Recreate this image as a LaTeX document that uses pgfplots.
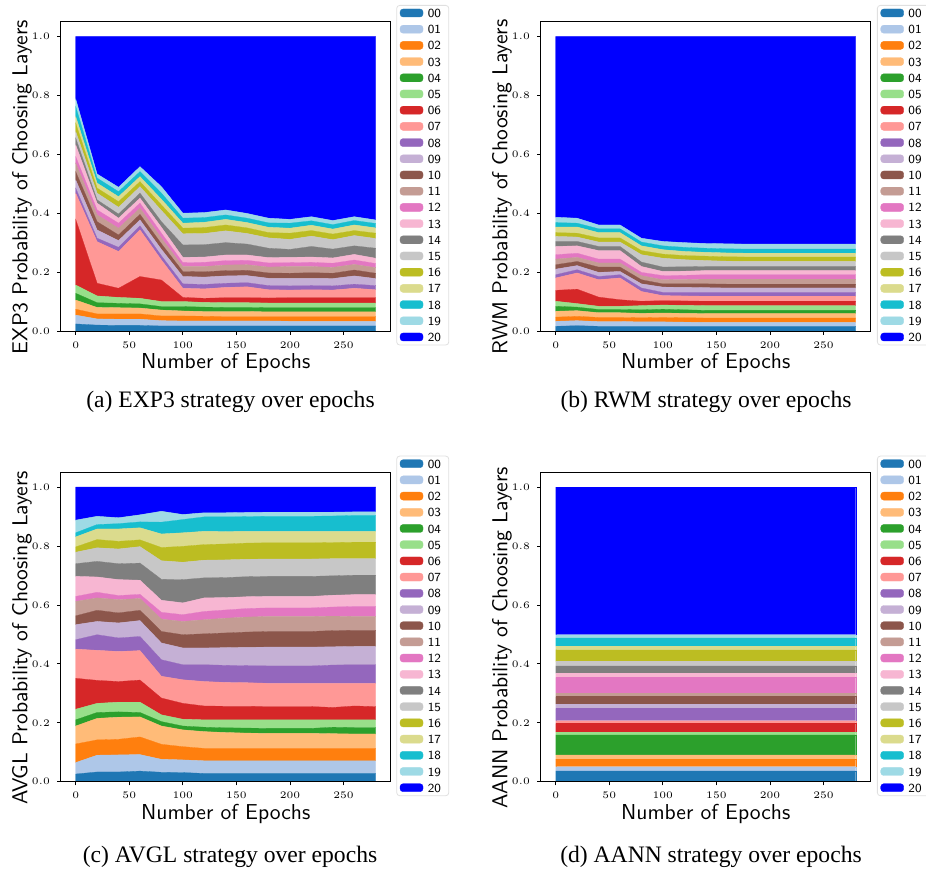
\documentclass[border=0pt]{standalone}
\usepackage{pgfplots}
\usepackage{pgfplotstable}
\pgfplotsset{compat=1.18}
\usepackage{fontspec}
\setmainfont{Liberation Serif}

\definecolor{c00}{HTML}{1F77B4}
\definecolor{c01}{HTML}{AEC7E8}
\definecolor{c02}{HTML}{FF7F0E}
\definecolor{c03}{HTML}{FFBB78}
\definecolor{c04}{HTML}{2CA02C}
\definecolor{c05}{HTML}{98DF8A}
\definecolor{c06}{HTML}{D62728}
\definecolor{c07}{HTML}{FF9896}
\definecolor{c08}{HTML}{9467BD}
\definecolor{c09}{HTML}{C5B0D5}
\definecolor{c10}{HTML}{8C564B}
\definecolor{c11}{HTML}{C49C94}
\definecolor{c12}{HTML}{E377C2}
\definecolor{c13}{HTML}{F7B6D2}
\definecolor{c14}{HTML}{7F7F7F}
\definecolor{c15}{HTML}{C7C7C7}
\definecolor{c16}{HTML}{BCBD22}
\definecolor{c17}{HTML}{DBDB8D}
\definecolor{c18}{HTML}{17BECF}
\definecolor{c19}{HTML}{9EDAE5}
\definecolor{c20}{HTML}{0000FF}

% EXP3
\pgfplotstableread{
e   c00   c01   c02   c03   c04   c05   c06   c07   c08   c09   c10   c11   c12   c13   c14   c15   c16   c17   c18   c19   c20
0   0.024 0.030 0.020 0.031 0.023 0.028 0.223 0.089 0.017 0.028 0.028 0.029 0.022 0.040 0.023 0.022 0.029 0.022 0.034 0.026 0.212
20  0.020 0.021 0.017 0.022 0.016 0.023 0.043 0.141 0.012 0.028 0.028 0.023 0.017 0.023 0.011 0.023 0.017 0.017 0.017 0.014 0.467
40  0.019 0.021 0.018 0.021 0.015 0.020 0.031 0.125 0.014 0.023 0.019 0.023 0.017 0.017 0.014 0.023 0.019 0.017 0.017 0.015 0.512
60  0.019 0.021 0.018 0.020 0.014 0.019 0.074 0.158 0.014 0.020 0.019 0.021 0.017 0.017 0.017 0.022 0.017 0.017 0.017 0.017 0.442
80  0.017 0.018 0.016 0.020 0.012 0.017 0.073 0.068 0.014 0.022 0.019 0.019 0.017 0.020 0.019 0.038 0.019 0.019 0.021 0.022 0.510
100 0.017 0.017 0.017 0.017 0.015 0.017 0.014 0.031 0.015 0.025 0.017 0.017 0.013 0.018 0.042 0.038 0.019 0.017 0.017 0.017 0.600
120 0.017 0.017 0.016 0.016 0.015 0.016 0.014 0.032 0.015 0.025 0.018 0.018 0.014 0.018 0.042 0.038 0.020 0.018 0.016 0.017 0.598
140 0.017 0.017 0.015 0.017 0.014 0.016 0.017 0.035 0.014 0.025 0.018 0.019 0.015 0.019 0.042 0.040 0.020 0.019 0.015 0.017 0.589
160 0.017 0.017 0.015 0.017 0.014 0.016 0.017 0.037 0.014 0.024 0.018 0.019 0.015 0.018 0.037 0.036 0.019 0.018 0.015 0.016 0.601
180 0.017 0.017 0.015 0.016 0.014 0.016 0.017 0.028 0.014 0.025 0.018 0.020 0.014 0.018 0.032 0.035 0.018 0.018 0.015 0.016 0.617
200 0.017 0.016 0.016 0.016 0.014 0.016 0.018 0.026 0.014 0.026 0.017 0.023 0.013 0.018 0.027 0.034 0.021 0.017 0.017 0.013 0.621
220 0.017 0.016 0.016 0.016 0.014 0.016 0.018 0.027 0.014 0.025 0.019 0.021 0.014 0.018 0.036 0.035 0.019 0.018 0.015 0.014 0.612
240 0.017 0.016 0.016 0.016 0.014 0.016 0.018 0.026 0.014 0.025 0.018 0.020 0.014 0.018 0.030 0.032 0.019 0.017 0.015 0.014 0.625
260 0.017 0.016 0.016 0.016 0.014 0.016 0.018 0.032 0.014 0.028 0.020 0.019 0.015 0.019 0.029 0.035 0.017 0.019 0.015 0.013 0.612
280 0.017 0.016 0.016 0.016 0.014 0.016 0.018 0.027 0.014 0.024 0.018 0.019 0.014 0.018 0.034 0.033 0.018 0.018 0.015 0.012 0.623
}\dataA

% RWM
\pgfplotstableread{
e   c00   c01   c02   c03   c04   c05   c06   c07   c08   c09   c10   c11   c12   c13   c14   c15   c16   c17   c18   c19   c20
0   0.016 0.017 0.014 0.020 0.017 0.017 0.037 0.042 0.011 0.019 0.015 0.019 0.015 0.028 0.017 0.017 0.013 0.019 0.015 0.018 0.614
20  0.018 0.017 0.015 0.019 0.012 0.012 0.049 0.055 0.011 0.014 0.014 0.014 0.014 0.025 0.015 0.015 0.013 0.021 0.013 0.017 0.617
40  0.016 0.016 0.014 0.016 0.011 0.011 0.031 0.059 0.011 0.014 0.018 0.014 0.013 0.029 0.014 0.015 0.014 0.018 0.013 0.013 0.640
60  0.016 0.016 0.014 0.016 0.011 0.011 0.022 0.074 0.011 0.011 0.015 0.014 0.013 0.029 0.014 0.015 0.014 0.018 0.013 0.013 0.640
80  0.016 0.015 0.014 0.015 0.012 0.014 0.015 0.033 0.012 0.014 0.014 0.014 0.011 0.020 0.015 0.025 0.014 0.016 0.013 0.013 0.685
100 0.016 0.015 0.015 0.015 0.013 0.014 0.015 0.017 0.011 0.018 0.011 0.014 0.014 0.014 0.015 0.030 0.014 0.015 0.013 0.015 0.696
120 0.016 0.014 0.015 0.015 0.012 0.015 0.015 0.017 0.012 0.017 0.012 0.015 0.014 0.014 0.015 0.024 0.014 0.014 0.014 0.016 0.700
140 0.016 0.013 0.015 0.015 0.011 0.016 0.015 0.017 0.013 0.016 0.013 0.016 0.015 0.014 0.014 0.020 0.015 0.013 0.014 0.016 0.703
160 0.016 0.013 0.015 0.015 0.011 0.016 0.015 0.017 0.013 0.015 0.013 0.017 0.015 0.014 0.014 0.018 0.015 0.013 0.014 0.017 0.704
180 0.016 0.013 0.015 0.015 0.011 0.016 0.015 0.017 0.013 0.015 0.013 0.017 0.015 0.014 0.014 0.017 0.015 0.013 0.014 0.017 0.705
200 0.016 0.013 0.015 0.015 0.011 0.016 0.015 0.017 0.013 0.015 0.013 0.017 0.015 0.014 0.014 0.017 0.015 0.013 0.014 0.017 0.705
220 0.016 0.013 0.015 0.015 0.011 0.016 0.015 0.017 0.013 0.015 0.013 0.017 0.015 0.014 0.014 0.017 0.015 0.013 0.014 0.017 0.705
240 0.016 0.013 0.015 0.015 0.011 0.016 0.015 0.017 0.013 0.015 0.013 0.017 0.015 0.014 0.014 0.017 0.015 0.013 0.014 0.017 0.705
260 0.016 0.013 0.015 0.015 0.011 0.016 0.015 0.017 0.013 0.015 0.013 0.017 0.015 0.014 0.014 0.017 0.015 0.013 0.014 0.017 0.705
280 0.016 0.013 0.015 0.015 0.011 0.016 0.015 0.017 0.013 0.015 0.013 0.017 0.015 0.014 0.014 0.017 0.015 0.013 0.014 0.017 0.705
}\dataB

% AVGL
\pgfplotstableread{
e   c00   c01   c02   c03   c04   c05   c06   c07   c08   c09   c10   c11   c12   c13   c14   c15   c16   c17   c18   c19   c20
0   0.026 0.039 0.063 0.061 0.021 0.036 0.105 0.099 0.032 0.051 0.030 0.049 0.017 0.068 0.043 0.039 0.018 0.034 0.014 0.043 0.112
20  0.033 0.057 0.052 0.073 0.020 0.031 0.078 0.102 0.053 0.045 0.038 0.042 0.019 0.052 0.053 0.046 0.028 0.036 0.015 0.028 0.099
40  0.033 0.058 0.053 0.075 0.018 0.033 0.070 0.102 0.046 0.051 0.034 0.045 0.014 0.054 0.054 0.050 0.026 0.042 0.018 0.020 0.104
60  0.036 0.056 0.060 0.068 0.015 0.035 0.075 0.100 0.048 0.054 0.035 0.040 0.014 0.048 0.058 0.056 0.023 0.041 0.020 0.024 0.094
80  0.032 0.044 0.051 0.062 0.015 0.023 0.057 0.074 0.056 0.057 0.039 0.042 0.023 0.041 0.071 0.063 0.045 0.046 0.040 0.037 0.082
100 0.031 0.043 0.045 0.057 0.013 0.023 0.054 0.080 0.051 0.057 0.045 0.045 0.023 0.040 0.079 0.059 0.054 0.046 0.045 0.017 0.093
120 0.028 0.043 0.042 0.057 0.015 0.025 0.047 0.083 0.057 0.057 0.048 0.048 0.028 0.046 0.068 0.060 0.053 0.045 0.049 0.014 0.087
140 0.028 0.043 0.042 0.054 0.016 0.027 0.046 0.081 0.058 0.060 0.050 0.050 0.028 0.042 0.068 0.060 0.054 0.042 0.050 0.014 0.087
160 0.028 0.043 0.042 0.052 0.017 0.028 0.046 0.080 0.058 0.062 0.052 0.051 0.029 0.040 0.068 0.059 0.055 0.040 0.050 0.014 0.086
180 0.028 0.043 0.042 0.051 0.017 0.029 0.045 0.079 0.059 0.064 0.053 0.051 0.029 0.039 0.068 0.059 0.055 0.039 0.051 0.014 0.085
200 0.028 0.043 0.042 0.051 0.017 0.029 0.045 0.079 0.059 0.064 0.053 0.051 0.029 0.039 0.068 0.059 0.055 0.039 0.051 0.014 0.085
220 0.028 0.043 0.042 0.051 0.017 0.029 0.045 0.079 0.059 0.064 0.053 0.051 0.029 0.039 0.068 0.059 0.055 0.039 0.051 0.014 0.085
240 0.028 0.043 0.042 0.050 0.022 0.025 0.042 0.082 0.062 0.062 0.055 0.049 0.031 0.040 0.066 0.058 0.055 0.038 0.052 0.013 0.085
260 0.028 0.043 0.042 0.049 0.022 0.026 0.047 0.077 0.063 0.062 0.055 0.047 0.034 0.040 0.066 0.056 0.056 0.037 0.054 0.012 0.084
280 0.028 0.043 0.042 0.049 0.022 0.026 0.045 0.079 0.063 0.062 0.055 0.047 0.034 0.040 0.066 0.056 0.056 0.037 0.054 0.012 0.084
}\dataC

% AANN
\pgfplotstableread{
e   c00   c01   c02   c03   c04   c05   c06   c07   c08   c09   c10   c11   c12   c13   c14   c15   c16   c17   c18   c19   c20
0   0.037 0.014 0.026 0.014 0.068 0.009 0.030 0.009 0.042 0.014 0.026 0.011 0.054 0.014 0.025 0.015 0.040 0.011 0.029 0.011 0.501
20  0.037 0.014 0.026 0.014 0.068 0.009 0.030 0.009 0.042 0.014 0.026 0.011 0.054 0.014 0.025 0.015 0.040 0.011 0.029 0.011 0.501
40  0.037 0.014 0.026 0.014 0.068 0.009 0.030 0.009 0.042 0.014 0.026 0.011 0.054 0.014 0.025 0.015 0.040 0.011 0.029 0.011 0.501
60  0.037 0.014 0.026 0.014 0.068 0.009 0.030 0.009 0.042 0.014 0.026 0.011 0.054 0.014 0.025 0.015 0.040 0.011 0.029 0.011 0.501
80  0.037 0.014 0.026 0.014 0.068 0.009 0.030 0.009 0.042 0.014 0.026 0.011 0.054 0.014 0.025 0.015 0.040 0.011 0.029 0.011 0.501
100 0.037 0.014 0.026 0.014 0.068 0.009 0.030 0.009 0.042 0.014 0.026 0.011 0.054 0.014 0.025 0.015 0.040 0.011 0.029 0.011 0.501
120 0.037 0.014 0.026 0.014 0.068 0.009 0.030 0.009 0.042 0.014 0.026 0.011 0.054 0.014 0.025 0.015 0.040 0.011 0.029 0.011 0.501
140 0.037 0.014 0.026 0.014 0.068 0.009 0.030 0.009 0.042 0.014 0.026 0.011 0.054 0.014 0.025 0.015 0.040 0.011 0.029 0.011 0.501
160 0.037 0.014 0.026 0.014 0.068 0.009 0.030 0.009 0.042 0.014 0.026 0.011 0.054 0.014 0.025 0.015 0.040 0.011 0.029 0.011 0.501
180 0.037 0.014 0.026 0.014 0.068 0.009 0.030 0.009 0.042 0.014 0.026 0.011 0.054 0.014 0.025 0.015 0.040 0.011 0.029 0.011 0.501
200 0.037 0.014 0.026 0.014 0.068 0.009 0.030 0.009 0.042 0.014 0.026 0.011 0.054 0.014 0.025 0.015 0.040 0.011 0.029 0.011 0.501
220 0.037 0.014 0.026 0.014 0.068 0.009 0.030 0.009 0.042 0.014 0.026 0.011 0.054 0.014 0.025 0.015 0.040 0.011 0.029 0.011 0.501
240 0.037 0.014 0.026 0.014 0.068 0.009 0.030 0.009 0.042 0.014 0.026 0.011 0.054 0.014 0.025 0.015 0.040 0.011 0.029 0.011 0.501
260 0.037 0.014 0.026 0.014 0.068 0.009 0.030 0.009 0.042 0.014 0.026 0.011 0.054 0.014 0.025 0.015 0.040 0.011 0.029 0.011 0.501
280 0.037 0.014 0.026 0.014 0.068 0.009 0.030 0.009 0.042 0.014 0.026 0.011 0.054 0.014 0.025 0.015 0.040 0.011 0.029 0.011 0.501
}\dataD

\newcommand{\stackall}[1]{%
  \pgfplotsinvokeforeach{00,01,02,03,04,05,06,07,08,09,10,11,12,13,14,15,16,17,18,19,20}{%
    \addplot[fill=c##1, draw=c##1, line width=0.15pt, mark=none] table[x=e, y=c##1] {#1} \closedcycle;
    \addlegendentry{##1}
  }%
}

\pgfplotsset{
  panel/.style={
    scale only axis, width=165pt, height=154.65pt,
    xmin=-14, xmax=294, ymin=0, ymax=1.05,
    stack plots=y, axis on top=true,
    xtick={0,50,100,150,200,250},
    ytick={0,0.2,0.4,0.6,0.8,1.0},
    yticklabel style={/pgf/number format/fixed,
      /pgf/number format/fixed zerofill,
      /pgf/number format/precision=1},
    ticklabel style={font=\fontsize{5.4}{6}\selectfont},
    xtick pos=bottom, ytick pos=left,
    tick align=outside, major tick length=1.8pt,
    tick style={black, line width=0.45pt},
    axis line style={black, line width=0.45pt},
    label style={font=\sffamily\fontsize{10.8}{12}\selectfont},
    xlabel={Number of Epochs},
    x label style={at={(axis description cs:0.5,-0.1035)}, anchor=center},
    y label style={at={(axis description cs:-0.117,0.465)}, anchor=center},
    legend cell align=left,
    legend image code/.code={\fill[##1] (0pt,-1.9pt) rectangle (11.5pt,2.1pt);},
    legend style={
      anchor=north west, draw=black!12, rounded corners=1.5pt, fill=white,
      font=\sffamily\fontsize{6.2}{7}\selectfont,
      inner xsep=1.6pt, inner ysep=1.2pt, row sep=2.7pt,
      nodes={inner xsep=2.3pt, inner ysep=0.5pt, text height=4.4pt, text depth=0pt},
    },
  },
}

\begin{document}
\begin{tikzpicture}
\begin{axis}[panel, at={(30.35pt,271pt)}, anchor=south west,
  ylabel={EXP3 Probability of Choosing Layers},
  legend style={at={(axis description cs:1.017,1.054)}}]
\stackall{\dataA}
\end{axis}
\begin{axis}[panel, at={(270.35pt,271pt)}, anchor=south west,
  ylabel={RWM Probability of Choosing Layers},
  legend style={at={(axis description cs:1.019,1.054)}}]
\stackall{\dataB}
\end{axis}
\begin{axis}[panel, at={(30.35pt,45.65pt)}, anchor=south west,
  ylabel={AVGL Probability of Choosing Layers},
  legend style={at={(axis description cs:1.017,1.054)}}]
\stackall{\dataC}
\end{axis}
\begin{axis}[panel, at={(270.35pt,45.65pt)}, anchor=south west,
  ylabel={AANN Probability of Choosing Layers},
  legend style={at={(axis description cs:1.019,1.054)}}]
\stackall{\dataD}
\end{axis}
\node[font=\fontsize{11.8}{14}\selectfont] at (115.25pt,235.5pt) {(a) EXP3 strategy over epochs};
\node[font=\fontsize{11.8}{14}\selectfont] at (353pt,235.5pt) {(b) RWM strategy over epochs};
\node[font=\fontsize{11.8}{14}\selectfont] at (115pt,8.15pt) {(c) AVGL strategy over epochs};
\node[font=\fontsize{11.8}{14}\selectfont] at (355.5pt,8.15pt) {(d) AANN strategy over epochs};
\pgfresetboundingbox
\useasboundingbox (0,0) rectangle (463pt,436.5pt);
\end{tikzpicture}
\end{document}
